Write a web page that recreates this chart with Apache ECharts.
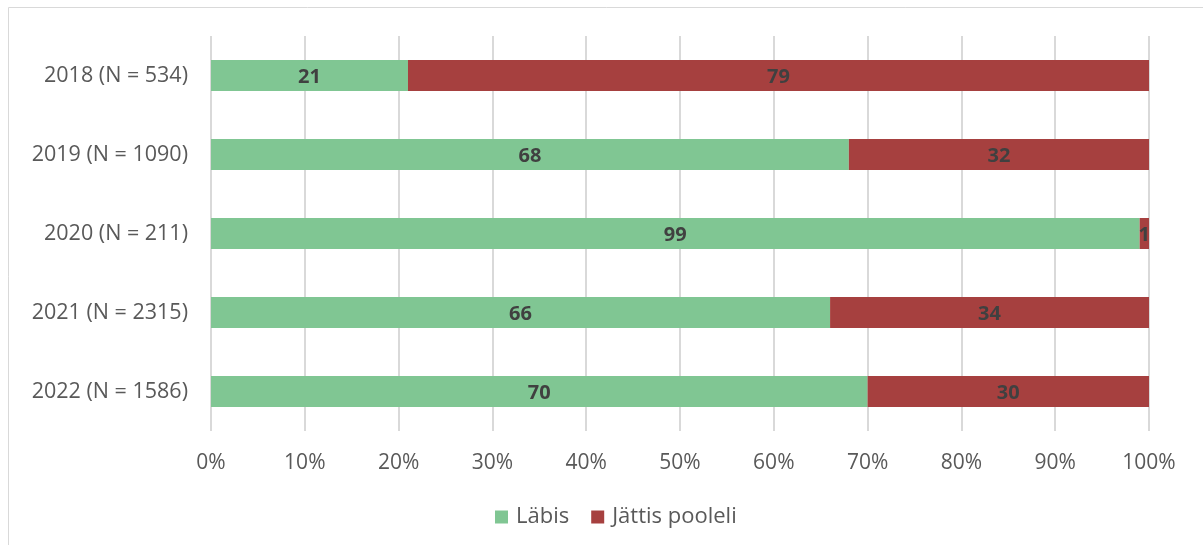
<!DOCTYPE html>
<html>
<head>
<meta charset="utf-8">
<script src="https://cdn.jsdelivr.net/npm/echarts@6/dist/echarts.min.js"></script>
<style>
  html, body { margin: 0; padding: 0; background: #fff; }
  #chart { width: 1203px; height: 545px; }
</style>
</head>
<body>
<div id="chart"></div>
<script>
// Share of participants who finished vs. dropped out, by year
const categories = ['2018 (N = 534)', '2019 (N = 1090)', '2020 (N = 211)', '2021 (N = 2315)', '2022 (N = 1586)'];
const labis = [21, 68, 99, 66, 70];
const jattisPooleli = [79, 32, 1, 34, 30];
const seriesNames = ['Läbis', 'Jättis pooleli'];

const FONT = '"Open Sans", "Noto Sans", sans-serif';
const chart = echarts.init(document.getElementById('chart'));

const labelStyle = {
  show: true,
  position: 'inside',
  offset: [0, 2],
  color: '#404040',
  fontWeight: 'bold',
  fontSize: 20,
  fontFamily: FONT
};

chart.setOption({
  animation: false,
  textStyle: { fontFamily: FONT },
  graphic: [{
    type: 'rect',
    shape: { x: 8.5, y: 7.5, width: 1220, height: 560 },
    style: { fill: 'none', stroke: '#d9d9d9', lineWidth: 1 },
    silent: true
  }],
  grid: { left: 211, right: 54, top: 36, bottom: 114 },
  legend: {
    top: 501,
    left: 490,
    itemWidth: 13,
    itemHeight: 13,
    itemGap: 22,
    icon: 'rect',
    textStyle: { color: '#595959', fontSize: 22, fontFamily: FONT, padding: [0, 0, 0, 3] },
    data: seriesNames
  },
  xAxis: {
    type: 'value',
    min: 0,
    max: 100,
    interval: 10,
    axisLine: { show: false },
    axisTick: { show: false },
    axisLabel: { color: '#595959', fontSize: 21, margin: 22, formatter: '{value}%' },
    splitLine: { show: true, lineStyle: { color: '#d9d9d9', width: 2 } }
  },
  yAxis: {
    type: 'category',
    inverse: true,
    data: categories,
    axisLine: { show: false },
    axisTick: { show: false },
    axisLabel: { color: '#595959', fontSize: 21.5, margin: 23 }
  },
  series: [
    {
      name: seriesNames[0],
      type: 'bar',
      stack: 'total',
      barWidth: 31,
      data: labis,
      itemStyle: { color: '#80C693' },
      label: labelStyle
    },
    {
      name: seriesNames[1],
      type: 'bar',
      stack: 'total',
      barWidth: 31,
      data: jattisPooleli,
      itemStyle: { color: '#A6403F' },
      label: labelStyle
    }
  ]
});
</script>
</body>
</html>
